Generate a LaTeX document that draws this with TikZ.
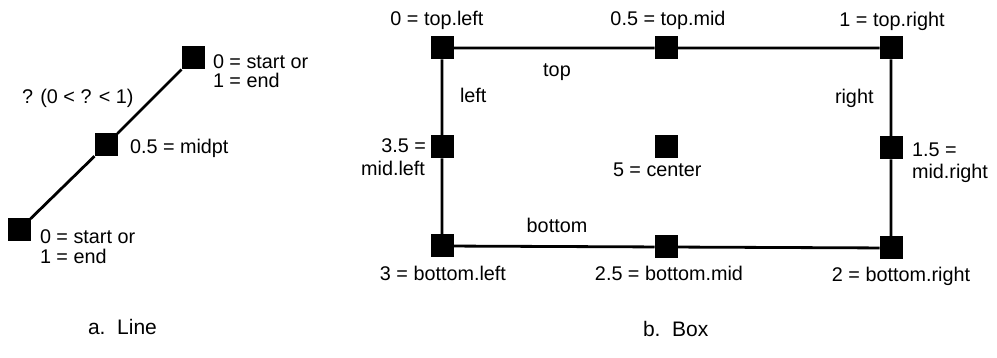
\documentclass[tikz,border=0pt]{standalone}
\usepackage{fontspec}
\setmainfont{Liberation Sans}
\begin{document}
\begin{tikzpicture}[x=1pt,y=-1pt,
  sq/.style={fill=black,draw=none,minimum size=23pt,inner sep=0pt,outer sep=0pt},
  lbl/.style={inner sep=0pt,outer sep=0pt,font=\fontsize{19.8}{22}\selectfont},
  caption/.style={lbl,font=\fontsize{21}{24}\selectfont},
  edge/.style={line width=2.8pt,black}]
\useasboundingbox (0,0) rectangle (997,358);

% ---- a. Line ----
\node[sq] (l1) at (19,230) {};
\node[sq] (l2) at (106,145) {};
\node[sq] (l3) at (193,58) {};
\draw[edge] (l1) -- (l2) -- (l3);

\node[lbl,anchor=base west] (endA1) at (213,69) {0 = start or};
\node[lbl,anchor=base west] (endA2) at (213,88) {1 = end};
\node[lbl,anchor=base west] (frac) at (22,104) {? (0 < ? < 1)};
\node[lbl,anchor=base west] (mid) at (130,154) {0.5 = midpt};
\node[lbl,anchor=base west] (endB1) at (40,244) {0 = start or};
\node[lbl,anchor=base west] (endB2) at (40,264) {1 = end};
\node[caption,anchor=base west] (capA) at (88,335) {a.\ \ Line};

% ---- b. Box ----
\node[sq] (tl) at (442,48) {};
\node[sq] (tm) at (666,48) {};
\node[sq] (tr) at (891,48) {};
\node[sq] (ml) at (442,147) {};
\node[sq] (cc) at (666,147) {};
\node[sq] (mr) at (891,148) {};
\node[sq] (bl) at (442,246) {};
\node[sq] (bm) at (666,247) {};
\node[sq] (br) at (891,248) {};
\draw[edge] (tl) -- (tm) -- (tr) -- (mr) -- (br) -- (bm) -- (bl) -- (ml) -- (tl);

\node[lbl,anchor=base] (tTL) at (437,26) {0 = top.left};
\node[lbl,anchor=base] (tTM) at (668,26) {0.5 = top.mid};
\node[lbl,anchor=base] (tTR) at (892,27) {1 = top.right};
\node[lbl,anchor=base] (sTop) at (557,77) {top};
\node[lbl,anchor=base west] (sLeft) at (460,103) {left};
\node[lbl,anchor=base west] (sRight) at (835,104) {right};
\node[lbl,anchor=base east] (tML1) at (426,153) {3.5 =};
\node[lbl,anchor=base east] (tML2) at (425,176) {mid.left};
\node[lbl,anchor=base west] (tC) at (613,177) {5 = center};
\node[lbl,anchor=base west] (tMR1) at (912,157) {1.5 =};
\node[lbl,anchor=base west] (tMR2) at (912,179) {mid.right};
\node[lbl,anchor=base] (sBottom) at (557,233) {bottom};
\node[lbl,anchor=base] (tBL) at (443,281) {3 = bottom.left};
\node[lbl,anchor=base] (tBM) at (669,281) {2.5 = bottom.mid};
\node[lbl,anchor=base] (tBR) at (901,282) {2 = bottom.right};
\node[caption,anchor=base west] (capB) at (643,337) {b.\ \ Box};
\end{tikzpicture}
\end{document}
